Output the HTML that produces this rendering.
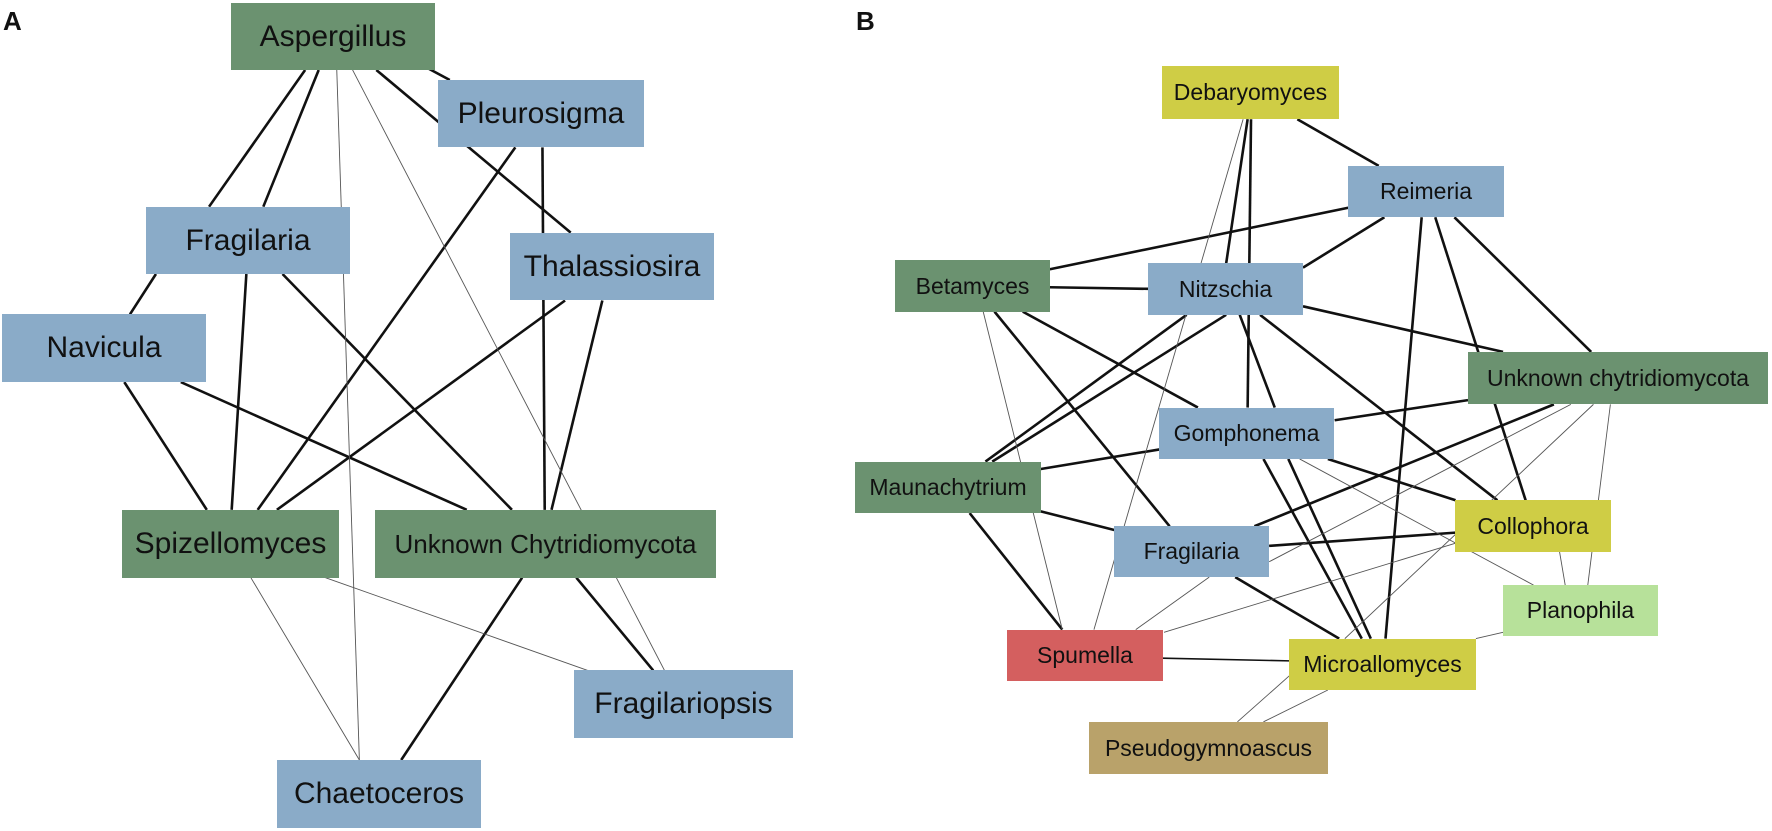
<!DOCTYPE html>
<html><head><meta charset="utf-8"><style>
html,body{margin:0;padding:0;background:#fff;}
#c{position:relative;width:1772px;height:831px;overflow:hidden;font-family:"Liberation Sans",Arial,sans-serif;}
svg{position:absolute;left:0;top:0;}
.n{position:absolute;display:flex;align-items:center;justify-content:center;color:#111;white-space:nowrap;}
.a{font-size:30px;}
.b{font-size:23px;}
.g{background:#6b9270;}
.bl{background:#8aabc8;}
.y{background:#cfcd45;}
.r{background:#d45f5f;}
.lg{background:#b7e19a;}
.br{background:#b9a26a;}
.lab{position:absolute;font-weight:bold;font-size:26px;color:#111;}
</style></head><body><div id="c">
<svg width="1772" height="831" viewBox="0 0 1568 1568" preserveAspectRatio="none">
<g stroke="#111" stroke-width="2.6" vector-effect="non-scaling-stroke" fill="none">
<line x1="270" y1="132" x2="185" y2="390" vector-effect="non-scaling-stroke"/>
<line x1="282" y1="132" x2="233" y2="390" vector-effect="non-scaling-stroke"/>
<line x1="333" y1="132" x2="505" y2="439" vector-effect="non-scaling-stroke"/>
<line x1="378" y1="128" x2="398" y2="151" vector-effect="non-scaling-stroke"/>
<line x1="138" y1="517" x2="115" y2="593" vector-effect="non-scaling-stroke"/>
<line x1="218" y1="517" x2="205" y2="962" vector-effect="non-scaling-stroke"/>
<line x1="250" y1="517" x2="453" y2="962" vector-effect="non-scaling-stroke"/>
<line x1="456" y1="278" x2="228" y2="962" vector-effect="non-scaling-stroke"/>
<line x1="480" y1="278" x2="482" y2="962" vector-effect="non-scaling-stroke"/>
<line x1="500" y1="567" x2="245" y2="962" vector-effect="non-scaling-stroke"/>
<line x1="533" y1="567" x2="488" y2="962" vector-effect="non-scaling-stroke"/>
<line x1="110" y1="721" x2="183" y2="962" vector-effect="non-scaling-stroke"/>
<line x1="160" y1="721" x2="413" y2="962" vector-effect="non-scaling-stroke"/>
<line x1="462" y1="1090" x2="355" y2="1434" vector-effect="non-scaling-stroke"/>
<line x1="510" y1="1090" x2="578" y2="1265" vector-effect="non-scaling-stroke"/>
<!-- B thick -->
<line x1="1104" y1="225" x2="1085" y2="497" vector-effect="non-scaling-stroke"/>
<line x1="1107" y1="225" x2="1104" y2="769" vector-effect="non-scaling-stroke"/>
<line x1="1148" y1="225" x2="1220" y2="313" vector-effect="non-scaling-stroke"/>
<line x1="1193" y1="392" x2="929" y2="508" vector-effect="non-scaling-stroke"/>
<line x1="1225" y1="410" x2="1153" y2="505" vector-effect="non-scaling-stroke"/>
<line x1="1258" y1="410" x2="1226" y2="1205" vector-effect="non-scaling-stroke"/>
<line x1="1270" y1="410" x2="1350" y2="944" vector-effect="non-scaling-stroke"/>
<line x1="1287" y1="410" x2="1408" y2="664" vector-effect="non-scaling-stroke"/>
<line x1="929" y1="542" x2="1016" y2="545" vector-effect="non-scaling-stroke"/>
<line x1="880" y1="588" x2="1035" y2="993" vector-effect="non-scaling-stroke"/>
<line x1="905" y1="588" x2="1060" y2="769" vector-effect="non-scaling-stroke"/>
<line x1="1050" y1="594" x2="872" y2="871" vector-effect="non-scaling-stroke"/>
<line x1="1085" y1="594" x2="878" y2="871" vector-effect="non-scaling-stroke"/>
<line x1="1097" y1="594" x2="1128" y2="769" vector-effect="non-scaling-stroke"/>
<line x1="1115" y1="594" x2="1325" y2="944" vector-effect="non-scaling-stroke"/>
<line x1="1153" y1="578" x2="1330" y2="664" vector-effect="non-scaling-stroke"/>
<line x1="1299" y1="755" x2="1181" y2="793" vector-effect="non-scaling-stroke"/>
<line x1="1375" y1="763" x2="1110" y2="993" vector-effect="non-scaling-stroke"/>
<line x1="921" y1="885" x2="1026" y2="848" vector-effect="non-scaling-stroke"/>
<line x1="1175" y1="866" x2="1288" y2="944" vector-effect="non-scaling-stroke"/>
<line x1="1118" y1="866" x2="1205" y2="1205" vector-effect="non-scaling-stroke"/>
<line x1="1140" y1="866" x2="1213" y2="1205" vector-effect="non-scaling-stroke"/>
<line x1="921" y1="965" x2="986" y2="1000" vector-effect="non-scaling-stroke"/>
<line x1="858" y1="968" x2="940" y2="1188" vector-effect="non-scaling-stroke"/>
<line x1="1123" y1="1030" x2="1288" y2="1005" vector-effect="non-scaling-stroke"/>
<line x1="1093" y1="1089" x2="1185" y2="1205" vector-effect="non-scaling-stroke"/>
<line x1="1029" y1="1242" x2="1141" y2="1247" stroke-width="1.6" vector-effect="non-scaling-stroke"/>
</g>
<g stroke="#555" stroke-width="0.9" fill="none">
<line x1="298" y1="132" x2="318" y2="1434" vector-effect="non-scaling-stroke"/>
<line x1="312" y1="132" x2="588" y2="1265" vector-effect="non-scaling-stroke"/>
<line x1="222" y1="1090" x2="318" y2="1434" vector-effect="non-scaling-stroke"/>
<line x1="288" y1="1090" x2="520" y2="1265" vector-effect="non-scaling-stroke"/>
<line x1="1100" y1="225" x2="968" y2="1188" vector-effect="non-scaling-stroke"/>
<line x1="870" y1="588" x2="940" y2="1188" vector-effect="non-scaling-stroke"/>
<line x1="1390" y1="763" x2="1123" y2="1060" vector-effect="non-scaling-stroke"/>
<line x1="1410" y1="763" x2="1190" y2="1205" vector-effect="non-scaling-stroke"/>
<line x1="1288" y1="1025" x2="1030" y2="1193" vector-effect="non-scaling-stroke"/>
<line x1="1425" y1="763" x2="1405" y2="1104" vector-effect="non-scaling-stroke"/>
<line x1="1150" y1="866" x2="1357" y2="1104" vector-effect="non-scaling-stroke"/>
<line x1="1070" y1="1089" x2="1005" y2="1188" vector-effect="non-scaling-stroke"/>
<line x1="1306" y1="1205" x2="1330" y2="1193" vector-effect="non-scaling-stroke"/>
<line x1="1141" y1="1275" x2="1095" y2="1362" vector-effect="non-scaling-stroke"/>
<line x1="1175" y1="1302" x2="1118" y2="1362" vector-effect="non-scaling-stroke"/>
<line x1="1380" y1="1041" x2="1385" y2="1104" vector-effect="non-scaling-stroke"/>
</g>
</svg>
<div class="lab" style="left:3px;top:6px;">A</div>
<div class="lab" style="left:856px;top:6px;">B</div>

<div class="n a g" style="left:231px;top:3px;width:204px;height:67px;">Aspergillus</div>
<div class="n a bl" style="left:438px;top:80px;width:206px;height:67px;">Pleurosigma</div>
<div class="n a bl" style="left:146px;top:207px;width:204px;height:67px;">Fragilaria</div>
<div class="n a bl" style="left:510px;top:233px;width:204px;height:67px;">Thalassiosira</div>
<div class="n a bl" style="left:2px;top:314px;width:204px;height:68px;">Navicula</div>
<div class="n a g" style="left:122px;top:510px;width:217px;height:68px;">Spizellomyces</div>
<div class="n g" style="left:375px;top:510px;width:341px;height:68px;font-size:26px;">Unknown Chytridiomycota</div>
<div class="n a bl" style="left:574px;top:670px;width:219px;height:68px;">Fragilariopsis</div>
<div class="n a bl" style="left:277px;top:760px;width:204px;height:68px;">Chaetoceros</div>

<div class="n b y" style="left:1162px;top:66px;width:177px;height:53px;">Debaryomyces</div>
<div class="n b bl" style="left:1348px;top:166px;width:156px;height:51px;">Reimeria</div>
<div class="n b g" style="left:895px;top:260px;width:155px;height:52px;">Betamyces</div>
<div class="n b bl" style="left:1148px;top:263px;width:155px;height:52px;">Nitzschia</div>
<div class="n b g" style="left:1468px;top:352px;width:300px;height:52px;">Unknown chytridiomycota</div>
<div class="n b bl" style="left:1159px;top:408px;width:175px;height:51px;">Gomphonema</div>
<div class="n b g" style="left:855px;top:462px;width:186px;height:51px;">Maunachytrium</div>
<div class="n b y" style="left:1455px;top:500px;width:156px;height:52px;">Collophora</div>
<div class="n b bl" style="left:1114px;top:526px;width:155px;height:51px;">Fragilaria</div>
<div class="n b lg" style="left:1503px;top:585px;width:155px;height:51px;">Planophila</div>
<div class="n b r" style="left:1007px;top:630px;width:156px;height:51px;">Spumella</div>
<div class="n b y" style="left:1289px;top:639px;width:187px;height:51px;">Microallomyces</div>
<div class="n b br" style="left:1089px;top:722px;width:239px;height:52px;">Pseudogymnoascus</div>
</div></body></html>
